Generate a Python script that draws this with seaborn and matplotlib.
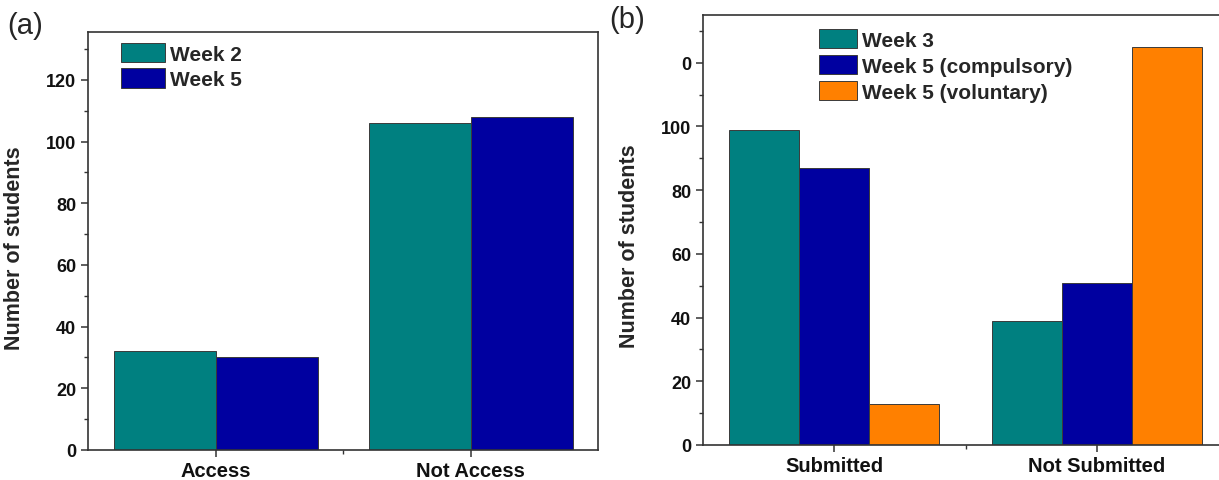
import matplotlib
matplotlib.use("Agg")
import matplotlib.pyplot as plt
import pandas as pd
import seaborn as sns

# Panel (a) data
access_cats = ["Access", "Not Access"]
access_weeks = ["Week 2", "Week 5"]
week2_access = [32, 106]
week5_access = [30, 108]

# Panel (b) data
submit_cats = ["Submitted", "Not Submitted"]
submit_weeks = ["Week 3", "Week 5 (compulsory)", "Week 5 (voluntary)"]
week3_submit = [99, 39]
week5c_submit = [87, 51]
week5v_submit = [13, 125]

# tick labels of panel (b) as printed in the figure (top one is clipped to "0")
b_ytick_values = [0, 20, 40, 60, 80, 100, 120]
b_ytick_labels = ["0", "20", "40", "60", "80", "100", "0"]

teal = "#008080"
navy = "#0000A0"
orange = "#FF8000"


def long_table(cats, weeks, series):
    rows = []
    for week, vals in zip(weeks, series):
        for cat, v in zip(cats, vals):
            rows.append({"cat": cat, "week": week, "n": v})
    return pd.DataFrame(rows)


def style_axis(ax, ylim):
    ax.set_ylim(*ylim)
    ax.set_xlim(-0.5, 1.5)
    ax.set_yticks(range(0, 140, 10), minor=True)
    ax.set_xticks([0.5], minor=True)
    ax.tick_params(axis="both", which="major", direction="out", length=5,
                   width=1.1, color="#333333", labelsize=13)
    ax.tick_params(axis="both", which="minor", direction="out", length=3,
                   width=1.0, color="#333333")
    ax.tick_params(axis="x", which="major", pad=3, labelsize=14.5)
    for sp in ax.spines.values():
        sp.set_linewidth(1.2)
        sp.set_color("#333333")
    ax.set_xlabel("")
    ax.set_ylabel("Number of students", fontsize=15.5, fontweight="bold")


def bold_ticks(ax):
    for lab in ax.get_xticklabels() + ax.get_yticklabels():
        lab.set_fontweight("bold")
        lab.set_color("#111111")


sns.set_theme(style="ticks")
plt.rcParams["font.family"] = ["Liberation Sans", "DejaVu Sans"]

fig = plt.figure(figsize=(12.19, 4.81), dpi=100)
ax1 = fig.add_axes([0.0722, 0.0624, 0.4184, 0.8690])
ax2 = fig.add_axes([0.5767, 0.0728, 0.4307, 0.8939])

# Panel (a)
df_a = long_table(access_cats, access_weeks, [week2_access, week5_access])
sns.barplot(data=df_a, x="cat", y="n", hue="week", order=access_cats,
            hue_order=access_weeks, palette=[teal, navy], width=0.8,
            saturation=1, edgecolor="#3a3a3a", linewidth=0.7, ax=ax1)
style_axis(ax1, (0, 135.5))
ax1.set_yticks(range(0, 121, 20))
bold_ticks(ax1)
ax1.yaxis.set_label_coords(-0.123, 0.486)
ax1.legend(loc="upper left", bbox_to_anchor=(0.040, 1.004), frameon=False,
           prop={"weight": "bold", "size": 15}, handlelength=2.1,
           handleheight=1.05, labelspacing=0.22, handletextpad=0.25,
           borderaxespad=0.2)

# Panel (b)
df_b = long_table(submit_cats, submit_weeks,
                  [week3_submit, week5c_submit, week5v_submit])
sns.barplot(data=df_b, x="cat", y="n", hue="week", order=submit_cats,
            hue_order=submit_weeks, palette=[teal, navy, orange], width=0.8,
            saturation=1, edgecolor="#3a3a3a", linewidth=0.7, ax=ax2)
style_axis(ax2, (0, 135))
ax2.set_yticks(b_ytick_values)
ax2.set_yticklabels(b_ytick_labels)
bold_ticks(ax2)
ax2.spines["right"].set_visible(False)
ax2.yaxis.set_label_coords(-0.12, 0.465)
ax2.legend(loc="upper left", bbox_to_anchor=(0.198, 0.997), frameon=False,
           prop={"weight": "bold", "size": 15}, handlelength=1.8,
           handleheight=1.05, labelspacing=0.25, handletextpad=0.25,
           borderaxespad=0.2)

# Panel letters
fig.text(0.006, 0.945, "(a)", fontsize=21, va="center", ha="left")
fig.text(0.500, 0.958, "(b)", fontsize=21, va="center", ha="left")

plt.savefig("out.png", dpi=100)
